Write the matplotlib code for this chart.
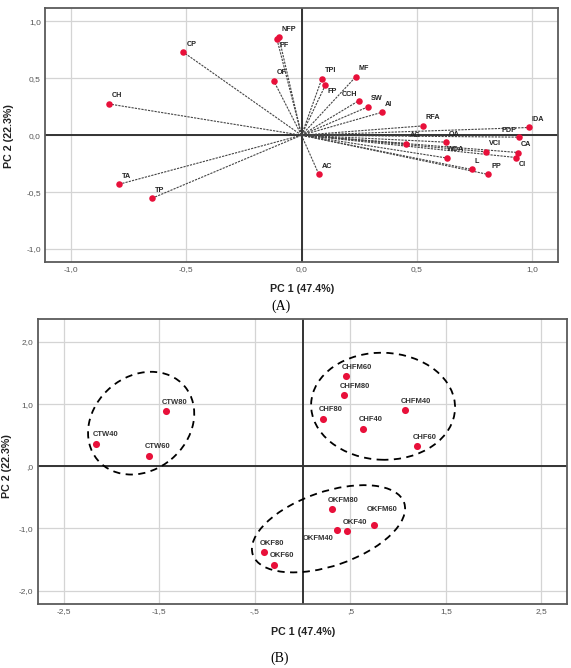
import matplotlib
matplotlib.use("Agg")
import matplotlib.pyplot as plt
from matplotlib.patches import Ellipse
from matplotlib.transforms import ScaledTranslation

plt.rcParams['font.family'] = ['Liberation Sans', 'DejaVu Sans']

# loadings (panel A)
var_names = ['CP', 'NFP', 'PF', 'OF', 'CH', 'TA', 'TP', 'TPI', 'FP', 'MF', 'CCH', 'SW', 'AI',
             'RFA', 'IDA', 'PDP', 'CA', 'CI', 'VCI', 'AG', 'OA', 'WDA', 'L', 'PP', 'AC']
pc1_load = [-0.513, -0.098, -0.107, -0.121, -0.836, -0.794, -0.650, 0.088, 0.104, 0.236, 0.249, 0.288, 0.350,
            0.526, 0.987, 0.945, 0.940, 0.932, 0.800, 0.455, 0.627, 0.630, 0.739, 0.811, 0.075]
pc2_load = [0.730, 0.860, 0.848, 0.480, 0.275, -0.432, -0.555, 0.495, 0.442, 0.515, 0.304, 0.249, 0.202,
            0.082, 0.068, -0.017, -0.152, -0.196, -0.146, -0.073, -0.061, -0.200, -0.301, -0.345, -0.342]

# scores (panel B)
sample_names = ['CTW80', 'CTW40', 'CTW60', 'CHFM60', 'CHFM80', 'CHFM40', 'CHF80', 'CHF40', 'CHF60',
                'OKFM80', 'OKFM60', 'OKF40', 'OKFM40', 'OKF80', 'OKF60']
pc1_score = [-1.427, -2.155, -1.605, 0.456, 0.429, 1.070, 0.216, 0.634, 1.196,
             0.306, 0.743, 0.467, 0.356, -0.402, -0.300]
pc2_score = [0.887, 0.361, 0.168, 1.447, 1.145, 0.903, 0.764, 0.603, 0.323,
             -0.688, -0.940, -1.048, -1.026, -1.381, -1.580]

# group rings: centre in data units, semi-axes in pixels, angle in degrees
ring_centres = [(-1.688, 0.694), (0.843, 0.966), (0.272, -1.005)]
ring_axes = [(57, 47, 40), (72, 53.5, -2), (80, 37, 19)]

a_ticks = [-1.0, -0.5, 0.0, 0.5, 1.0]
a_xlabels = ['-1,0', '-0,5', '0,0', '0,5', '1,0']
a_ylabels = ['-1,0', '-0,5', '0,0', '0,5', '1,0']
b_xticks = [-2.5, -1.5, -0.5, 0.5, 1.5, 2.5]
b_xlabels = ['-2,5', '-1,5', '-,5', ',5', '1,5', '2,5']
b_yticks = [-2.0, -1.0, 0.0, 1.0, 2.0]
b_ylabels = ['-2,0', '-1,0', ',0', '1,0', '2,0']

# label offsets in pixels (dx, dy, ha) where they differ from the default
a_off = {'PF': (3, -7, 'left'), 'FP': (2, -7, 'left'), 'CCH': (-2, 6, 'right'),
         'PDP': (-3, 7, 'right'), 'CI': (2, -7, 'left'), 'WDA': (0, 8, 'left')}
b_off = {'OKFM60': (-7, 15, 'left'), 'OKFM40': (-3, -8, 'right')}

RED = '#e8103a'
W, H = 571, 668
fig = plt.figure(figsize=(W / 100, H / 100), dpi=100)


def style(ax):
    ax.grid(True, color='#d4d4d4', lw=0.9)
    ax.set_axisbelow(True)
    for s in ax.spines.values():
        s.set_color('#5a5a5a')
        s.set_linewidth(1.3)
    ax.tick_params(length=0, labelsize=6, labelcolor='#555555', pad=3)
    ax.axhline(0, color='#333333', lw=1.4, zorder=1)
    ax.axvline(0, color='#333333', lw=1.4, zorder=1)


# panel A
axA = fig.add_axes([45 / W, (H - 262) / H, 513 / W, 254 / H])
style(axA)
axA.set_xlim(-1.113, 1.113)
axA.set_ylim(-1.114, 1.118)
axA.set_xticks(a_ticks)
axA.set_xticklabels(a_xlabels)
axA.set_yticks(a_ticks)
axA.set_yticklabels(a_ylabels)
for name, x, y in zip(var_names, pc1_load, pc2_load):
    axA.plot([0, x], [0, y], color='#444444', lw=0.8, ls=(0, (2, 1)), zorder=2)
axA.scatter(pc1_load, pc2_load, s=22, color=RED, zorder=3, linewidths=0)
for name, x, y in zip(var_names, pc1_load, pc2_load):
    dx, dy, ha = a_off.get(name, (3, 8, 'left'))
    axA.annotate(name, (x, y), xytext=(dx, dy), textcoords='offset pixels',
                 ha=ha, va='center', fontsize=5.2, fontweight='bold', color='#222222', zorder=4)

# panel B
axB = fig.add_axes([37.7 / W, (H - 604.3) / H, 529.6 / W, (604.3 - 319) / H])
style(axB)
axB.set_xlim(-2.77, 2.77)
axB.set_ylim(-2.22, 2.37)
axB.set_xticks(b_xticks)
axB.set_xticklabels(b_xlabels)
axB.set_yticks(b_yticks)
axB.set_yticklabels(b_ylabels)
axB.scatter(pc1_score, pc2_score, s=26, color=RED, zorder=3, linewidths=0)
for name, x, y in zip(sample_names, pc1_score, pc2_score):
    dx, dy, ha = b_off.get(name, (-4, 9, 'left'))
    axB.annotate(name, (x, y), xytext=(dx, dy), textcoords='offset pixels',
                 ha=ha, va='center', fontsize=5.5, fontweight='bold', color='#333333', zorder=4)
for (cx, cy), (a, b, ang) in zip(ring_centres, ring_axes):
    tr = fig.dpi_scale_trans + ScaledTranslation(cx, cy, axB.transData)
    axB.add_patch(Ellipse((0, 0), 2 * a / 100, 2 * b / 100, angle=ang, transform=tr,
                          fill=False, ec='black', lw=1.3, ls=(0, (4, 3)), zorder=2))

# axis titles and panel letters
lab = dict(fontsize=7.7, fontweight='bold', color='#222222', ha='center', va='center')
fig.text(302 / W, 1 - 289 / H, 'PC 1 (47.4%)', **lab)
fig.text(9.5 / W, 1 - 136 / H, 'PC 2 (22.3%)', rotation=90, **lab)
fig.text(303 / W, 1 - 632 / H, 'PC 1 (47.4%)', **lab)
fig.text(7.5 / W, 1 - 466 / H, 'PC 2 (22.3%)', rotation=90, **lab)
fig.text(281 / W, 1 - 306 / H, '(A)', fontsize=10, family='Liberation Serif', ha='center', va='center')
fig.text(280 / W, 1 - 658 / H, '(B)', fontsize=10, family='Liberation Serif', ha='center', va='center')

fig.savefig('out.png', dpi=100)
